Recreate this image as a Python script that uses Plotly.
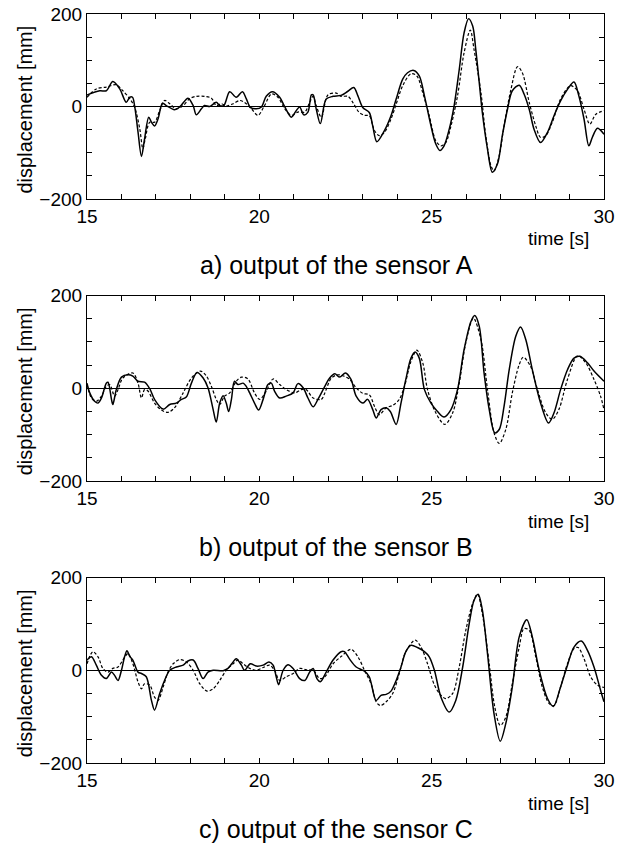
import plotly.graph_objects as go

# ---------------- data (time [s], displacement [mm]) ----------------
A_SOLID = [(15.0,25),(15.37,34),(15.56,34),(15.75,54),(15.95,38),(16.14,9),(16.24,20),(16.32,20),(16.38,2),
           (16.48,-55),(16.58,-108),(16.67,-70),(16.79,-23),(16.87,-34),(16.96,-42),(17.06,-27),(17.19,7),
           (17.30,2),(17.54,-7),(17.69,-1),(17.93,18),(18.08,2),(18.17,-18),(18.32,-5),(18.41,2),(18.56,0),
           (18.75,9),(18.85,2),(18.97,2),(19.14,32),(19.33,20),(19.51,32),(19.62,17),(19.74,-2),(19.91,-5),
           (20.06,-1),(20.20,22),(20.38,32),(20.59,20),(20.74,-1),(20.93,-23),(21.07,-9),(21.17,-1),(21.29,-18),
           (21.41,-12),(21.51,25),(21.56,25),(21.65,-5),(21.77,-37),(21.94,16),(22.14,22),(22.37,24),(22.57,33),
           (22.74,41),(22.86,23),(23.0,-2),(23.19,-13),(23.29,-42),(23.41,-76),(23.63,-52),(23.82,-20),(23.97,16),
           (24.16,59),(24.30,73),(24.48,78),(24.64,66),(24.79,23),(24.98,-42),(25.12,-81),(25.24,-95),(25.36,-85),
           (25.51,-49),(25.65,1),(25.80,80),(25.94,159),(26.07,190),(26.19,174),(26.28,123),(26.38,52),(26.47,-13),
           (26.62,-92),(26.76,-142),(26.91,-124),(27.05,-63),(27.20,-6),(27.34,34),(27.54,46),(27.68,27),
           (27.83,-6),(27.97,-49),(28.16,-78),(28.36,-56),(28.55,-20),(28.74,12),(28.94,37),(29.13,53),(29.27,23),
           (29.42,-27),(29.56,-85),(29.66,-67),(29.81,-47),(30.0,-60)]
A_DASHED = [(15.0,20),(15.27,38),(15.56,42),(15.85,47),(16.04,34),(16.24,17),(16.38,-1),(16.53,-48),(16.62,-91),
            (16.69,-70),(16.82,-34),(16.96,-34),(17.11,-9),(17.25,13),(17.40,6),(17.59,-5),(17.79,2),(17.98,17),
            (18.17,22),(18.41,22),(18.61,18),(18.75,2),(18.90,6),(19.04,1),(19.24,6),(19.43,13),(19.57,9),
            (19.77,-5),(19.96,-19),(20.15,2),(20.35,27),(20.54,20),(20.74,-5),(20.93,-19),(21.12,-12),(21.32,-12),
            (21.46,9),(21.56,22),(21.65,2),(21.80,-23),(21.99,25),(22.23,29),(22.37,22),(22.57,22),(22.71,9),
            (22.90,-13),(23.05,-19),(23.19,-20),(23.34,-52),(23.48,-63),(23.63,-56),(23.82,-27),(23.97,5),
            (24.16,45),(24.40,71),(24.57,66),(24.74,30),(24.93,-20),(25.12,-74),(25.27,-85),(25.41,-78),
            (25.56,-42),(25.75,23),(25.94,116),(26.12,165),(26.23,123),(26.43,30),(26.57,-63),(26.72,-128),
            (26.81,-139),(26.96,-106),(27.10,-42),(27.30,37),(27.49,86),(27.63,73),(27.83,9),(28.02,-42),
            (28.16,-67),(28.31,-63),(28.50,-34),(28.74,16),(29.03,45),(29.23,34),(29.42,-6),(29.59,-38),
            (29.76,-17),(30.0,-9)]

B_SOLID = [(15.0,11),(15.08,-10),(15.22,-28),(15.32,-32),(15.42,-21),(15.56,11),(15.61,13),(15.71,-24),(15.75,-35),
           (15.85,-3),(16.0,24),(16.19,29),(16.33,26),(16.48,15),(16.67,13),(16.82,-1),(16.96,-24),(17.21,-45),
           (17.40,-35),(17.59,-32),(17.74,-24),(17.88,-19),(18.03,11),(18.19,34),(18.37,22),(18.51,1),(18.66,-46),
           (18.75,-73),(18.85,-32),(18.95,-16),(19.04,-32),(19.11,-50),(19.19,-24),(19.28,15),(19.38,8),(19.53,11),
           (19.62,4),(19.72,-10),(19.86,-32),(19.98,-47),(20.11,-24),(20.25,8),(20.35,11),(20.44,-6),(20.59,-21),
           (20.78,-17),(20.98,-10),(21.12,10),(21.27,1),(21.41,-21),(21.56,-40),(21.70,-24),(21.90,4),(22.04,22),
           (22.19,31),(22.33,24),(22.50,33),(22.66,19),(22.81,-17),(23.0,-32),(23.14,-24),(23.29,-46),(23.39,-64),
           (23.53,-46),(23.68,-42),(23.80,-50),(23.97,-78),(24.11,-32),(24.25,19),(24.40,65),(24.52,78),(24.64,65),
           (24.79,-3),(24.98,-32),(25.17,-50),(25.36,-62),(25.56,-46),(25.75,-3),(25.94,83),(26.14,144),(26.25,157),
           (26.38,134),(26.52,33),(26.67,-46),(26.83,-96),(26.96,-89),(27.10,-39),(27.25,40),(27.44,112),
           (27.58,132),(27.73,105),(27.92,40),(28.16,-32),(28.39,-75),(28.55,-53),(28.74,-3),(28.94,40),(29.13,65),
           (29.30,69),(29.52,55),(29.71,37),(30.0,15)]
B_DASHED = [(15.0,8),(15.13,-21),(15.27,-28),(15.42,-17),(15.56,4),(15.66,8),(15.80,-17),(15.90,-3),(16.04,22),
            (16.33,33),(16.48,11),(16.58,-21),(16.67,-3),(16.77,-6),(16.96,-32),(17.16,-47),(17.35,-52),(17.54,-42),
            (17.79,-10),(18.03,22),(18.29,37),(18.46,27),(18.61,4),(18.75,-24),(18.85,-35),(18.99,-17),(19.14,-10),
            (19.33,15),(19.48,24),(19.67,20),(19.86,-10),(20.01,-24),(20.20,-6),(20.40,20),(20.59,8),(20.78,-3),
            (21.03,-10),(21.22,-3),(21.36,-3),(21.56,-21),(21.80,-24),(21.90,-10),(22.09,22),(22.28,29),(22.42,27),
            (22.61,20),(22.81,1),(23.0,-11),(23.19,-14),(23.34,-39),(23.48,-57),(23.68,-42),(23.87,-37),(24.06,-24),
            (24.21,4),(24.40,58),(24.57,82),(24.74,55),(24.88,-3),(25.12,-53),(25.38,-78),(25.61,-53),(25.80,11),
            (25.99,98),(26.21,151),(26.43,105),(26.62,-3),(26.81,-96),(26.96,-119),(27.15,-89),(27.34,-10),
            (27.54,51),(27.66,67),(27.87,47),(28.07,-3),(28.31,-53),(28.50,-67),(28.69,-46),(28.94,19),(29.23,70),
            (29.47,55),(29.71,19),(29.90,-17),(30.0,-46)]

C_SOLID = [(15.0,22),(15.13,29),(15.27,11),(15.42,-11),(15.56,-18),(15.71,-4),(15.80,-11),(15.90,-22),(16.0,0),
           (16.09,29),(16.16,42),(16.24,30),(16.33,22),(16.48,-4),(16.58,-7),(16.72,-14),(16.87,-65),(16.96,-86),
           (17.11,-50),(17.25,-22),(17.40,0),(17.59,7),(17.79,11),(17.93,20),(18.08,22),(18.22,4),(18.37,-18),
           (18.51,-4),(18.66,0),(18.95,-1),(19.09,4),(19.24,18),(19.33,25),(19.48,11),(19.57,0),(19.74,14),
           (19.91,9),(20.11,11),(20.28,18),(20.40,11),(20.49,-14),(20.56,-31),(20.69,0),(20.83,12),(20.98,4),
           (21.17,-18),(21.32,-22),(21.46,-4),(21.56,4),(21.67,-18),(21.77,-25),(21.94,-4),(22.14,22),(22.37,40),
           (22.47,40),(22.61,25),(22.81,7),(23.05,-2),(23.19,-14),(23.39,-65),(23.53,-54),(23.68,-52),(23.82,-45),
           (23.97,-22),(24.11,7),(24.25,40),(24.40,54),(24.59,49),(24.79,40),(24.93,29),(25.08,0),(25.27,-58),
           (25.51,-90),(25.70,-65),(25.90,7),(26.09,101),(26.23,151),(26.35,164),(26.47,130),(26.62,36),
           (26.81,-94),(26.99,-153),(27.15,-115),(27.34,-36),(27.54,72),(27.76,109),(27.92,72),(28.12,0),
           (28.36,-61),(28.53,-78),(28.74,-36),(28.94,11),(29.13,50),(29.34,63),(29.52,43),(29.71,7),(29.90,-43),
           (30.0,-68)]
C_DASHED = [(15.0,14),(15.17,40),(15.32,29),(15.46,4),(15.61,-4),(15.75,4),(15.90,7),(16.04,22),(16.19,36),
            (16.33,14),(16.48,-25),(16.58,-40),(16.67,-29),(16.82,-32),(16.96,-58),(17.06,-65),(17.21,-36),
            (17.35,-4),(17.50,14),(17.69,23),(17.88,18),(18.08,0),(18.27,-29),(18.48,-45),(18.66,-40),(18.85,-22),
            (19.04,0),(19.24,14),(19.38,22),(19.53,14),(19.72,4),(19.91,0),(20.11,6),(20.30,11),(20.44,0),
            (20.59,-22),(20.78,-14),(20.98,-7),(21.17,4),(21.36,1),(21.56,0),(21.75,-18),(21.90,-14),(22.14,14),
            (22.38,30),(22.66,45),(22.86,29),(23.05,0),(23.24,-29),(23.39,-68),(23.51,-76),(23.68,-68),(23.87,-50),
            (24.06,-7),(24.25,40),(24.52,65),(24.69,50),(24.88,14),(25.08,-32),(25.27,-54),(25.41,-61),(25.61,-50),
            (25.80,7),(25.99,86),(26.19,144),(26.33,164),(26.47,122),(26.67,14),(26.83,-79),(26.99,-119),
            (27.15,-101),(27.34,-29),(27.54,50),(27.68,90),(27.83,86),(28.02,29),(28.21,-36),(28.41,-72),
            (28.55,-76),(28.74,-36),(28.94,14),(29.13,47),(29.25,49),(29.42,25),(29.61,-14),(29.81,-32),(30.0,-37)]

X_TICKS = list(range(15, 31))
X_TICK_TEXT = [str(v) if v % 5 == 0 else "" for v in X_TICKS]
Y_TICKS = [-200, -150, -100, -50, 0, 50, 100, 150, 200]
Y_TICK_TEXT = ["\u2212200", "", "", "", "0", "", "", "", "200"]
CAPTIONS = ["a) output of the sensor A", "b) output of the sensor B", "c) output of the sensor C"]
Y_TITLE = "displacement [mm]"
X_TITLE = "time [s]"

# ---------------- layout geometry (page pixels) ----------------
W, H = 627, 848
LEFT, RIGHT = 87, 604
TOPS = [14, 295.5, 577.5]
BOTTOMS = [199, 481, 763]
FONT = "Liberation Sans, Arial, Helvetica, sans-serif"


def px_x(p):
    return p / W


def px_y(p):
    return 1 - p / H


fig = go.Figure()
panels = [(A_SOLID, A_DASHED), (B_SOLID, B_DASHED), (C_SOLID, C_DASHED)]
annotations = []
for i, (solid, dashed) in enumerate(panels):
    n = "" if i == 0 else str(i + 1)
    xa, ya = "x" + n, "y" + n
    for series, dash, width in ((dashed, "3px,2px", 1.2), (solid, "solid", 1.5)):
        fig.add_trace(go.Scatter(
            x=[p[0] for p in series], y=[p[1] for p in series],
            mode="lines", xaxis=xa, yaxis=ya, showlegend=False,
            line=dict(color="black", width=width, dash=dash, shape="spline", smoothing=0.9),
            hoverinfo="skip"))
    common = dict(showline=True, linecolor="black", linewidth=1.2, mirror="ticks",
                  ticks="inside", ticklen=5, tickwidth=1, tickcolor="black", automargin=False,
                  showgrid=False, tickfont=dict(family=FONT, size=19, color="black"))
    fig.layout["xaxis" + n] = dict(
        domain=[px_x(LEFT), px_x(RIGHT)], anchor=ya, range=[15, 30],
        tickmode="array", tickvals=X_TICKS, ticktext=X_TICK_TEXT, zeroline=False, **common)
    fig.layout["yaxis" + n] = dict(
        domain=[px_y(BOTTOMS[i]), px_y(TOPS[i])], anchor=xa, range=[-200, 200],
        tickmode="array", tickvals=Y_TICKS, ticktext=Y_TICK_TEXT,
        zeroline=True, zerolinecolor="black", zerolinewidth=1.2, **common)
    mid = (TOPS[i] + BOTTOMS[i]) / 2 + 3
    annotations.append(dict(x=px_x(25), y=px_y(mid), xref="paper", yref="paper",
                            text=Y_TITLE, textangle=-90, showarrow=False,
                            font=dict(family=FONT, size=20, color="black"),
                            xanchor="center", yanchor="middle"))
    annotations.append(dict(x=px_x(558), y=px_y(BOTTOMS[i] + 40), xref="paper", yref="paper",
                            text=X_TITLE, showarrow=False,
                            font=dict(family=FONT, size=19, color="black"),
                            xanchor="center", yanchor="middle"))
    annotations.append(dict(x=px_x(336), y=px_y(BOTTOMS[i] + 66), xref="paper", yref="paper",
                            text=CAPTIONS[i], showarrow=False,
                            font=dict(family=FONT, size=25, color="black"),
                            xanchor="center", yanchor="middle"))

fig.update_layout(width=W, height=H, margin=dict(l=0, r=0, t=0, b=0),
                  plot_bgcolor="white", paper_bgcolor="white",
                  annotations=annotations, font=dict(family=FONT, color="black"))
fig.write_html("out.html")
